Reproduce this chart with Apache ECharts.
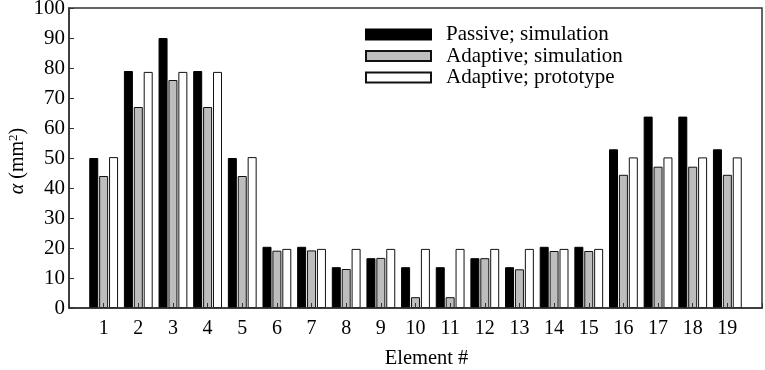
<!DOCTYPE html>
<html>
<head>
<meta charset="utf-8">
<script src="https://cdn.jsdelivr.net/npm/echarts@6/dist/echarts.min.js"></script>
<style>
  html, body { margin: 0; padding: 0; background: #fff; }
  #chart { width: 765px; height: 370px; }
</style>
</head>
<body>
<div id="chart"></div>
<script>
var elements = ['1','2','3','4','5','6','7','8','9','10','11','12','13','14','15','16','17','18','19'];
var passiveSim  = [50, 79, 90, 79, 50, 20.4, 20.4, 13.6, 16.6, 13.6, 13.6, 16.6, 13.6, 20.4, 20.4, 52.9, 63.8, 63.8, 52.9];
var adaptiveSim = [44, 67, 76, 67, 44, 19.1, 19.2, 13.0, 16.7, 3.6, 3.6, 16.6, 12.9, 19.0, 19.0, 44.4, 47.1, 47.1, 44.4];
var adaptiveProto = [50.3, 78.7, 78.7, 78.7, 50.3, 19.7, 19.7, 19.7, 19.7, 19.7, 19.7, 19.7, 19.7, 19.7, 19.7, 50.2, 50.2, 50.2, 50.2];

// axis runs from 0 to 20 with empty slots at each end
function pad(arr) { return ['-'].concat(arr, ['-']); }
var cats = [''].concat(elements, ['']);

var font = '"Liberation Serif", "Times New Roman", serif';

var chart = echarts.init(document.getElementById('chart'));

var option = {
    animation: false,
    textStyle: { fontFamily: font, color: '#000' },
    grid: {
        left: 69, right: 3, top: 8, bottom: 62,
        outerBoundsMode: 'none',
        show: true, borderColor: '#333', borderWidth: 1.5
    },
    legend: {
        left: 365, top: 24, orient: 'vertical', padding: 0,
        itemWidth: 65, itemHeight: 10, itemGap: 0.5,
        icon: 'rect',
        textStyle: { fontFamily: font, fontSize: 21, color: '#000', lineHeight: 18, padding: [0, 0, 0, 10] },
        data: ['Passive; simulation', 'Adaptive; simulation', 'Adaptive; prototype']
    },
    // y axis title, rotated
    graphic: [{
        type: 'text',
        x: 18, y: 161,
        rotation: Math.PI / 2,
        style: {
            text: '{i|α} (mm{s|2})',
            align: 'center',
            verticalAlign: 'middle',
            font: '20px ' + font,
            fill: '#000',
            rich: {
                i: { fontFamily: font, fontSize: 20, fontStyle: 'italic', fill: '#000' },
                s: { fontFamily: font, fontSize: 13, fill: '#000', verticalAlign: 'top', padding: [0, 0, 9, 0] }
            }
        }
    }],
    xAxis: {
        type: 'category',
        data: cats,
        boundaryGap: false,
        z: 5,
        name: 'Element #',
        nameLocation: 'middle',
        nameGap: 40,
        nameTextStyle: { fontFamily: font, fontSize: 20.5, color: '#000', padding: [0, 0, 0, 22] },
        axisLine: { lineStyle: { color: '#333', width: 1.5 } },
        axisTick: { show: true, inside: true, length: 5, interval: 0, lineStyle: { color: '#333' } },
        axisLabel: { interval: 0, margin: 11, fontFamily: font, fontSize: 20, color: '#000' },
        splitLine: { show: false }
    },
    yAxis: {
        type: 'value',
        min: 0, max: 100, interval: 10,
        axisLine: { show: true, lineStyle: { color: '#333', width: 1.5 } },
        axisTick: { show: true, inside: true, length: 5, lineStyle: { color: '#333' } },
        axisLabel: { margin: 4, fontFamily: font, fontSize: 21, color: '#000' },
        splitLine: { show: false }
    },
    series: [
        {
            name: 'Passive; simulation', type: 'bar',
            barWidth: 9, barGap: '10%',
            itemStyle: { color: '#000', borderColor: '#000', borderWidth: 1 },
            data: pad(passiveSim)
        },
        {
            name: 'Adaptive; simulation', type: 'bar',
            barWidth: 9, barGap: '10%',
            itemStyle: { color: '#bdbdbd', borderColor: '#111', borderWidth: 1 },
            data: pad(adaptiveSim)
        },
        {
            name: 'Adaptive; prototype', type: 'bar',
            barWidth: 9, barGap: '10%',
            itemStyle: { color: '#fff', borderColor: '#111', borderWidth: 1 },
            data: pad(adaptiveProto)
        }
    ]
};

chart.setOption(option);
window.addEventListener('resize', chart.resize);
</script>
</body>
</html>
